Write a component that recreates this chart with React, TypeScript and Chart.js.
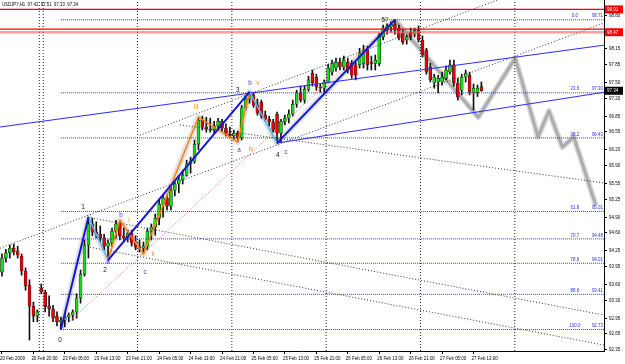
import React, { useEffect, useRef } from 'react';
import { Chart, registerables } from 'chart.js';
Chart.register(...registerables);

const symbolTitle = 'USDJPY,H1  97.42  97.51  97.33  97.34';

const opens = [93.84,94.11,94.21,94.30,94.25,94.15,93.86,93.59,93.18,92.99,93.53,93.45,93.18,93.13,92.99,92.88,92.91,92.97,93.01,93.07,93.34,93.80,94.36,94.77,94.61,94.57,94.50,94.34,94.40,94.63,94.77,94.54,94.50,94.59,94.40,94.32,94.30,94.34,94.63,94.71,94.88,95.15,95.27,95.11,95.42,95.54,95.62,95.71,95.93,95.98,96.31,96.77,96.64,96.60,96.58,96.66,96.75,96.62,96.50,96.47,96.52,96.43,97.01,97.18,97.26,97.06,97.12,96.87,96.79,96.74,96.89,96.52,96.75,96.81,96.89,97.08,97.30,97.16,97.37,97.68,97.60,97.41,97.39,97.51,97.70,97.78,97.89,97.80,97.89,97.87,97.84,97.84,97.87,98.13,97.89,97.87,97.87,98.38,98.51,98.57,98.63,98.55,98.45,98.32,98.47,98.43,98.51,98.32,98.13,97.80,97.49,97.51,97.51,97.58,97.70,97.84,97.49,97.35,97.60,97.64,97.31,97.30,97.42];
const highs = [94.19,94.28,94.36,94.38,94.34,94.19,93.92,93.69,93.26,93.11,93.61,93.49,93.38,93.20,93.07,92.97,93.03,93.05,93.11,93.42,93.88,94.46,94.90,94.88,94.81,94.73,94.57,94.46,94.69,94.84,94.84,94.69,94.65,94.65,94.54,94.46,94.42,94.69,94.77,94.96,95.23,95.33,95.33,95.48,95.58,95.69,95.81,96.00,96.06,96.39,96.83,96.85,96.83,96.81,96.75,96.81,96.79,96.70,96.64,96.58,96.56,97.06,97.24,97.32,97.30,97.18,97.16,96.95,96.85,96.79,96.93,96.79,96.87,96.97,97.16,97.35,97.43,97.43,97.62,97.74,97.66,97.47,97.55,97.85,97.93,97.97,97.97,98.01,97.97,97.93,97.89,98.16,98.22,98.20,98.01,98.03,98.45,98.61,98.63,98.67,98.71,98.61,98.51,98.41,98.55,98.55,98.59,98.40,98.16,97.87,97.66,97.64,97.70,97.82,97.93,97.93,97.58,97.66,97.74,97.70,97.47,97.45,97.51];
const lows = [93.76,94.03,94.11,94.17,94.11,93.78,93.49,92.53,92.88,92.88,93.42,93.07,92.99,92.88,92.80,92.73,92.78,92.88,92.91,92.95,93.24,93.76,94.11,94.54,94.50,94.42,94.27,94.07,94.34,94.50,94.46,94.42,94.42,94.34,94.27,94.23,94.19,94.27,94.46,94.55,94.75,94.90,95.04,95.04,95.31,95.37,95.54,95.69,95.75,95.94,96.20,96.58,96.54,96.54,96.52,96.58,96.56,96.47,96.43,96.39,96.35,96.39,96.97,97.10,97.02,96.87,96.81,96.75,96.66,96.54,96.33,96.35,96.68,96.72,96.85,97.02,97.12,97.10,97.33,97.43,97.35,97.31,97.31,97.49,97.64,97.72,97.74,97.74,97.68,97.58,97.55,97.78,97.78,97.74,97.74,97.74,97.82,98.32,98.43,98.47,98.43,98.32,98.24,98.24,98.32,98.38,98.28,97.99,97.66,97.51,97.39,97.30,97.45,97.55,97.66,97.43,97.16,97.26,97.51,97.26,96.97,97.23,97.33];
const closes = [94.11,94.21,94.30,94.23,94.17,93.86,93.57,93.18,92.99,93.07,93.45,93.17,93.13,92.95,92.88,92.91,92.97,93.01,93.07,93.34,93.80,94.36,94.77,94.61,94.57,94.50,94.34,94.40,94.63,94.77,94.54,94.50,94.59,94.40,94.32,94.30,94.34,94.63,94.71,94.88,95.15,95.27,95.11,95.42,95.54,95.62,95.71,95.93,95.98,96.31,96.77,96.64,96.60,96.58,96.66,96.75,96.62,96.50,96.47,96.52,96.43,97.01,97.18,97.26,97.06,96.91,96.87,96.79,96.74,96.58,96.52,96.75,96.81,96.89,97.08,97.30,97.16,97.37,97.55,97.49,97.41,97.39,97.51,97.78,97.87,97.89,97.80,97.93,97.74,97.64,97.64,98.07,98.13,97.84,97.87,97.93,98.41,98.55,98.59,98.63,98.51,98.36,98.28,98.38,98.38,98.51,98.32,98.03,97.70,97.55,97.60,97.58,97.60,97.74,97.84,97.49,97.22,97.60,97.68,97.31,97.39,97.39,97.34];

const timeLabels = ['20 Feb 2009','20 Feb 20:00','23 Feb 05:00','23 Feb 13:00','23 Feb 21:00','24 Feb 05:00','24 Feb 13:00','24 Feb 21:00','25 Feb 05:00','25 Feb 13:00','25 Feb 21:00','26 Feb 05:00','26 Feb 13:00','26 Feb 21:00','27 Feb 05:00','27 Feb 13:00'];
const timeLabelIdx = [0,8,16,24,32,40,48,56,64,72,80,88,96,104,112,120];
const priceTicks = [98.80,98.15,97.85,97.50,97.20,96.85,96.55,96.20,95.90,95.55,95.25,94.90,94.60,94.25,93.95,93.60,93.30,92.95,92.65,92.35];

const fibLevels = ['0.0','23.6','38.2','61.8','70.7','78.6','88.6','100.0'];
const fibPrices = [98.71,97.30,96.43,95.01,94.48,94.01,93.41,92.73];
const fibStartIdx = 15;

const redLinePrices = [98.91,98.53];
const pinkLinePrices = [98.47];
const boxPrices = [98.91,98.47];
const bidPrice = 97.34;

const separatorIdx = [9.5,10.5,34.5,58.5,82.5,106.5,130.5];

const impulseA = [[15,92.73],[22,94.90]];
const impulseB = [[27,94.07],[63,97.32]];
const impulseC = [[70,96.33],[100,98.71]];
const correctA = [[22,94.90],[27,94.07]];
const correctB = [[63,97.32],[70,96.33]];
const orangeWave = [[27,94.07],[30,94.84],[36,94.19],[50,96.83],[60,96.35],[63,97.32]];
const redDotted = [[15,92.73],[100,98.71]];
const channelUpper = [[-0.5,96.64],[153.2,98.22]];
const channelLower = [[70,96.33],[153.2,97.31]];
const dotted1 = [[-0.5,94.30],[153.2,98.65]];
const dotted2 = [[35.1,96.48],[126,99.09]];
const dotted3 = [[21.9,94.90],[153.2,93.01]];
const dotted4 = [[22.4,94.32],[153.2,92.43]];
const dotted5 = [[45.3,96.68],[153.2,95.56]];
const grayPast = [[15,92.73],[22,94.90],[27,94.07],[30,94.84],[36,94.19],[50,96.83],[60,96.35],[63,97.32],[70,96.33],[100,98.71]];
const grayProjection = [[100,98.71],[121.2,96.83],[130.6,97.97],[136.4,96.45],[139.2,96.95],[142.6,96.25],[145.5,96.45],[151.1,95.13]];

const waveText = ['0','1','2','3','4','5?'];
const waveIdx = [14.8,20.6,26.2,60,70.2,97.5];
const wavePrice = [92.53,95.09,93.88,97.35,96.10,98.70];
const blueText = ['a','b','c','a','b','c'];
const blueIdx = [27,30.3,36.4,60.3,63.1,72.3];
const bluePrice = [94.03,94.94,93.84,96.20,97.49,96.16];
const orangeText = ['i','ii','iii','iv','v'];
const orangeIdx = [32.3,38.4,49.4,63.4,65.1];
const orangePrice = [94.84,94.19,97.02,96.22,97.49];

const X_MIN = -0.5, X_MAX = 153.2, Y_MIN = 92.316, Y_MAX = 99.092;
const SX = 0.74;
const FONT = '"Liberation Sans", Arial, sans-serif';

function txt(ctx: CanvasRenderingContext2D, s: string, x: number, y: number, o: any = {}) {
  ctx.save();
  ctx.translate(x, y);
  ctx.scale(o.sx ?? SX, 1);
  ctx.font = `${o.size ?? 6}px ${FONT}`;
  ctx.fillStyle = o.color ?? '#000';
  ctx.textAlign = o.align ?? 'left';
  ctx.textBaseline = o.base ?? 'middle';
  ctx.fillText(s, 0, 0);
  ctx.restore();
}

const overlay = {
  id: 'overlay',
  afterDraw(chart: any) {
    const { ctx, chartArea: a, scales } = chart;
    const xs = scales.x, ys = scales.y;
    txt(ctx, symbolTitle, a.left + 2, a.top + 4, { size: 6, sx: 0.72 });
    timeLabelIdx.forEach((v, k) => txt(ctx, timeLabels[k], xs.getPixelForValue(v) - 2, a.bottom + 4, { base: 'top', size: 6 }));
    priceTicks.forEach((v) => txt(ctx, v.toFixed(2), a.right + 5, ys.getPixelForValue(v), { size: 6 }));
    fibPrices.forEach((p, k) => {
      const py = ys.getPixelForValue(p);
      txt(ctx, fibLevels[k], xs.getPixelForValue(145.8), py - 1, { align: 'center', base: 'bottom', color: '#2a2aff', size: 6 });
      txt(ctx, p.toFixed(2), a.right - 1, py - 1, { align: 'right', base: 'bottom', color: '#2a2aff', size: 6 });
    });
    boxPrices.forEach((p) => {
      const py = ys.getPixelForValue(p);
      ctx.fillStyle = '#ff0000';
      ctx.fillRect(a.right + 1, py - 4, 18, 8);
      txt(ctx, p.toFixed(2), a.right + 3, py, { color: '#fff', size: 6 });
    });
    {
      const py = ys.getPixelForValue(bidPrice);
      ctx.fillStyle = '#000';
      ctx.fillRect(a.right + 1, py - 4, 18, 8);
      txt(ctx, bidPrice.toFixed(2), a.right + 3, py, { color: '#fff', size: 6 });
    }
    waveText.forEach((t, k) => txt(ctx, t, xs.getPixelForValue(waveIdx[k]), ys.getPixelForValue(wavePrice[k]), { align: 'center', size: 7.5, sx: 0.85, color: '#111' }));
    blueText.forEach((t, k) => txt(ctx, t, xs.getPixelForValue(blueIdx[k]), ys.getPixelForValue(bluePrice[k]), { align: 'center', size: 7.5, sx: 0.85, color: '#3a3aff' }));
    orangeText.forEach((t, k) => txt(ctx, t, xs.getPixelForValue(orangeIdx[k]), ys.getPixelForValue(orangePrice[k]), { align: 'center', size: 7.5, sx: 0.85, color: '#ff8c1a' }));
  },
};

export default function App() {
  const ref = useRef<HTMLCanvasElement>(null);
  useEffect(() => {
    document.body.style.margin = '0';
    const canvas = ref.current!;
    const pts = (arr: number[][]) => arr.map(([x, y]) => ({ x, y }));
    const line = (data: any[], color: string, width: number, dash: number[], order: number) => ({
      type: 'line', data, borderColor: color, borderWidth: width, borderDash: dash,
      pointRadius: 0, fill: false, tension: 0, order, borderCapStyle: 'butt', borderJoinStyle: 'round',
    });
    const datasets: any[] = [];
    datasets.push(line(pts(grayPast), 'rgba(190,190,190,0.45)', 6, [], 200));
    datasets.push(line(pts(grayProjection), 'rgba(205,205,205,0.7)', 6, [], 200));
    datasets.push(line(pts(grayProjection), 'rgba(170,170,170,0.95)', 3, [], 199));
    separatorIdx.forEach((s) => datasets.push(line([{ x: s, y: Y_MIN }, { x: s, y: Y_MAX }], '#222', 1, [1, 2], 150)));
    datasets.push({
      type: 'bar', data: highs.map((h, i) => ({ x: i, y: [lows[i], h] })), backgroundColor: '#111',
      barThickness: 1, grouped: false, order: 120,
    });
    datasets.push({
      type: 'bar', data: opens.map((o, i) => ({ x: i, y: [o, closes[i]] })),
      backgroundColor: opens.map((o, i) => (closes[i] >= o ? '#10e010' : '#e80000')),
      borderColor: '#222', borderWidth: 0.6, borderSkipped: false,
      barThickness: 3, grouped: false, order: 110,
    });
    fibPrices.forEach((p) => datasets.push(line([{ x: fibStartIdx, y: p }, { x: X_MAX, y: p }], '#3333ff', 1, [1, 1], 60)));
    [dotted1, dotted2, dotted3, dotted4, dotted5].forEach((d) => datasets.push(line(pts(d), '#333', 1, [1, 2], 55)));
    datasets.push(line(pts(redDotted), '#ff5050', 1, [1, 2], 50));
    redLinePrices.forEach((p) => datasets.push(line([{ x: X_MIN, y: p }, { x: X_MAX, y: p }], '#ff0000', 1.3, [], 40)));
    pinkLinePrices.forEach((p) => datasets.push(line([{ x: X_MIN, y: p }, { x: X_MAX, y: p }], 'rgba(255,90,90,0.6)', 2.5, [], 41)));
    datasets.push(line(pts(channelUpper), '#2b2bff', 1, [], 30));
    datasets.push(line(pts(channelLower), '#2b2bff', 1, [], 30));
    datasets.push(line(pts(orangeWave), '#ff8000', 1.5, [], 20));
    datasets.push(line(pts(correctA), '#4db8ff', 1.5, [], 15));
    datasets.push(line(pts(correctB), '#4db8ff', 1.5, [], 15));
    [impulseA, impulseB, impulseC].forEach((d) => datasets.push(line(pts(d), '#1414d8', 2, [], 10)));

    const chart = new Chart(canvas, {
      type: 'bar',
      data: { datasets },
      plugins: [overlay],
      options: {
        animation: false,
        responsive: false,
        events: [],
        layout: { padding: { left: 0, top: 0, right: 18, bottom: 10 }, autoPadding: false },
        plugins: { legend: { display: false }, tooltip: { enabled: false } },
        scales: {
          x: {
            type: 'linear', min: X_MIN, max: X_MAX, offset: false, position: 'bottom',
            grid: { drawOnChartArea: false, drawTicks: true, tickLength: 3, color: '#000', offset: false },
            border: { color: '#000', width: 1 },
            ticks: { display: false },
            afterBuildTicks: (s: any) => { s.ticks = timeLabelIdx.map((v) => ({ value: v })); },
          },
          y: {
            type: 'linear', min: Y_MIN, max: Y_MAX, position: 'right',
            grid: { drawOnChartArea: false, drawTicks: true, tickLength: 3, color: '#000' },
            border: { color: '#000', width: 1 },
            ticks: { display: false },
            afterBuildTicks: (s: any) => { s.ticks = priceTicks.map((v) => ({ value: v })); },
          },
        },
      } as any,
    });
    return () => chart.destroy();
  }, []);
  return <canvas ref={ref} width={625} height={364} style={{ display: 'block', background: '#fff' }} />;
}
